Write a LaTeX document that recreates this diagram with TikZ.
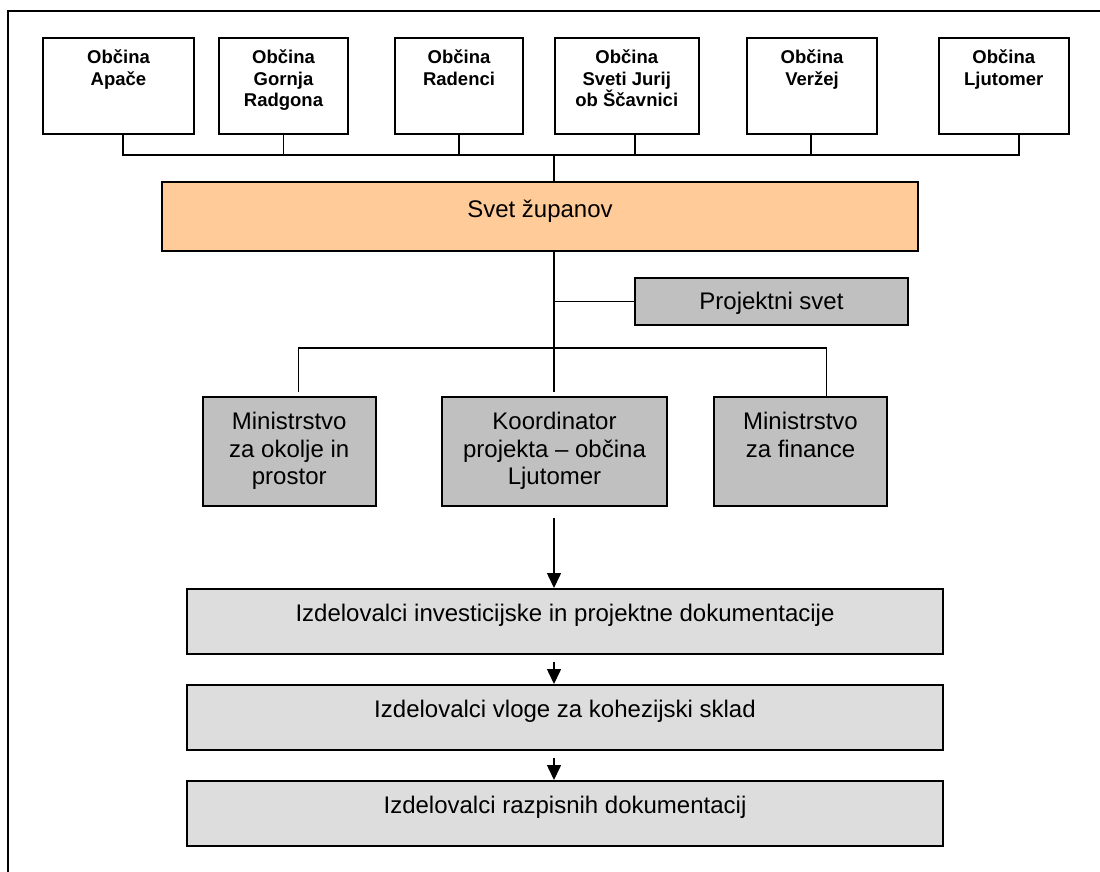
\documentclass[tikz,border=0pt]{standalone}
\usepackage{fontspec}
\setmainfont{Liberation Sans}
\usetikzlibrary{arrows.meta,calc}
\definecolor{svetfill}{HTML}{FFCC99}
\definecolor{grayfill}{HTML}{C0C0C0}
\definecolor{lightfill}{HTML}{DDDDDD}
\tikzset{
  box/.style={draw=black, line width=2pt, inner sep=0pt, anchor=north west},
  topbox/.style={box, fill=white, minimum height=96pt},
  toptext/.style={anchor=base, inner sep=0pt, align=center, font=\fontsize{18.5}{21.5}\selectfont\bfseries},
  regtext/.style={anchor=base, inner sep=0pt, align=center, font=\fontsize{24}{27.6}\selectfont},
  conn/.style={draw=black, line width=1.5pt},
  arr/.style={conn, -{Triangle[length=15pt,width=14pt]}},
}
\begin{document}
\begin{tikzpicture}[x=1pt,y=-1pt]
\useasboundingbox (0,0) rectangle (1100,871);
\clip (0,0) rectangle (1100,871);
% frame
\draw[line width=2pt] (8,880) -- (8,11) -- (1110,11);

% top boxes
\node[topbox, minimum width=151pt] (apace) at (42,37) {};
\node[topbox, minimum width=129pt] (gornja) at (218,37) {};
\node[topbox, minimum width=128pt] (radenci) at (394,37) {};
\node[topbox, minimum width=144.5pt] (jurij) at (553.5,37) {};
\node[topbox, minimum width=130pt] (verzej) at (746,37) {};
\node[topbox, minimum width=129.5pt] (ljut) at (938,37) {};
\node[toptext] (apace-t) at ($(apace.north)+(0,48.1)$) {Občina\\Apače};
\node[toptext] (gornja-t) at ($(gornja.north)+(0,69.6)$) {Občina\\Gornja\\Radgona};
\node[toptext] (radenci-t) at ($(radenci.north)+(0,48.1)$) {Občina\\Radenci};
\node[toptext] (jurij-t) at ($(jurij.north)+(0,69.6)$) {Občina\\Sveti Jurij\\ob Ščavnici};
\node[toptext] (verzej-t) at ($(verzej.north)+(0,48.1)$) {Občina\\Veržej};
\node[toptext] (ljut-t) at ($(ljut.north)+(0,48.1)$) {Občina\\Ljutomer};

% Svet županov
\node[box, fill=svetfill, minimum width=756pt, minimum height=69pt] (svet) at (161,181) {};
\node[regtext] (svet-t) at ($(svet.north)+(0,36.6)$) {Svet županov};

% Projektni svet
\node[box, fill=grayfill, minimum width=273pt, minimum height=47pt] (projekt) at (634,277) {};
\node[regtext] (projekt-t) at ($(projekt.north)+(0,32.6)$) {Projektni svet};

% third row
\node[box, fill=grayfill, minimum width=172.5pt, minimum height=109pt] (minok) at (202,396) {};
\node[box, fill=grayfill, minimum width=225pt, minimum height=109pt] (koord) at (441,396) {};
\node[box, fill=grayfill, minimum width=173pt, minimum height=109pt] (minfin) at (713,396) {};
\node[regtext] (minok-t) at ($(minok.north)+(0,88.8)$) {Ministrstvo\\za okolje in\\prostor};
\node[regtext] (koord-t) at ($(koord.north)+(0,88.8)$) {Koordinator\\projekta – občina\\Ljutomer};
\node[regtext] (minfin-t) at ($(minfin.north)+(0,61.2)$) {Ministrstvo\\za finance};

% bottom boxes
\node[box, fill=lightfill, minimum width=756pt, minimum height=65pt] (izd1) at (186,588) {};
\node[box, fill=lightfill, minimum width=756pt, minimum height=65pt] (izd2) at (186,684) {};
\node[box, fill=lightfill, minimum width=756pt, minimum height=65pt] (izd3) at (186,780) {};
\node[regtext] (izd1-t) at ($(izd1.north)+(0,33.6)$) {Izdelovalci investicijske in projektne dokumentacije};
\node[regtext] (izd2-t) at ($(izd2.north)+(0,33.6)$) {Izdelovalci vloge za kohezijski sklad};
\node[regtext] (izd3-t) at ($(izd3.north)+(0,33.6)$) {Izdelovalci razpisnih dokumentacij};

% connectors
\coordinate (bus) at (554,155);
\coordinate (bar) at (554,348);
\coordinate (ax) at (554,0);
\draw[conn] ([xshift=4.5pt]apace.south) |- (bus);
\draw[conn] (gornja.south) |- (bus);
\draw[conn] (radenci.south) |- (bus);
\draw[conn] ([xshift=8pt]jurij.south) |- (bus);
\draw[conn] ([xshift=-1pt]verzej.south) |- (bus);
\draw[conn] ([xshift=15pt]ljut.south) |- (bus);
\draw[conn] (bus) -- (bus |- svet.north);
\draw[conn] (ax |- svet.south) -- ($(ax |- koord.north)+(0,-4)$);
\draw[conn] (projekt.west) -- (projekt.west -| ax);
\draw[conn] ($([xshift=9pt]minok.north)+(0,-4)$) |- (bar);
\draw[conn] ([xshift=26pt]minfin.north) |- (bar);

\draw[arr] ($(ax |- koord.south)+(0,11)$) -- (ax |- izd1.north);
\draw[arr] ($(ax |- izd1.south)+(0,7)$) -- (ax |- izd2.north);
\draw[arr] ($(ax |- izd2.south)+(0,7)$) -- (ax |- izd3.north);
\end{tikzpicture}
\end{document}
